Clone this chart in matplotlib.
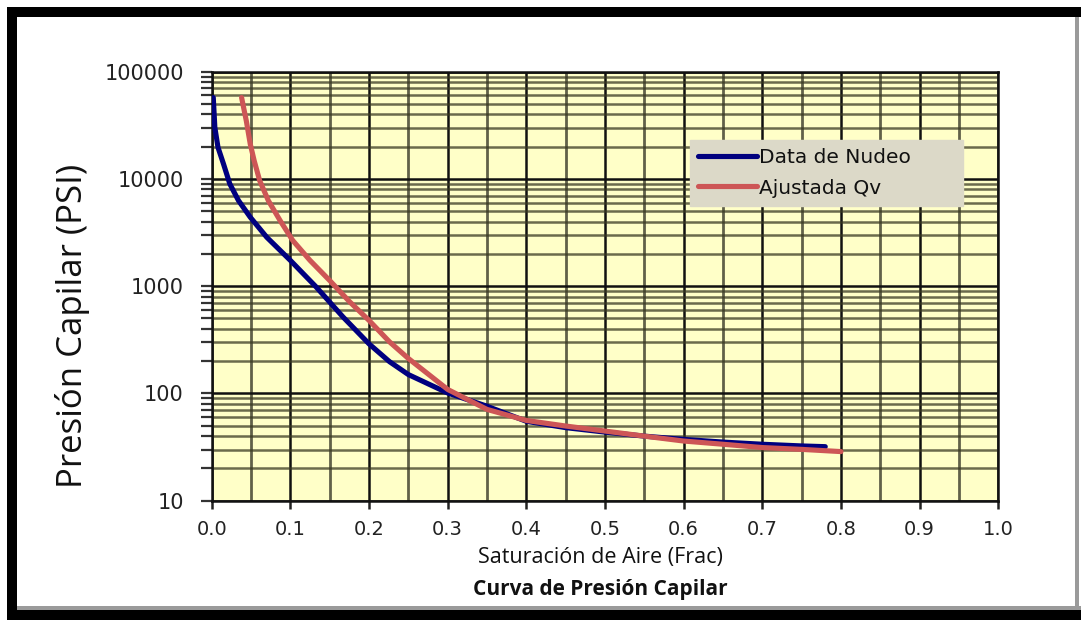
import matplotlib
matplotlib.use("Agg")
import matplotlib.pyplot as plt
from matplotlib.patches import Rectangle
from matplotlib.ticker import FixedLocator, NullFormatter, LogLocator

# ---- data ----
nucleo_x = [0.002, 0.004, 0.008, 0.015, 0.023, 0.034, 0.049, 0.07, 0.1, 0.133, 0.167, 0.2,
            0.226, 0.25, 0.3, 0.35, 0.4, 0.45, 0.5, 0.55, 0.6, 0.65, 0.7, 0.75, 0.78]
nucleo_y = [57400, 30200, 19700, 13800, 9000, 6300, 4400, 2860, 1740, 980, 516, 290,
            198, 150, 101, 76, 55, 48, 43.6, 40, 37.3, 35.2, 33.6, 32.4, 31.9]

ajust_x = [0.038, 0.044, 0.049, 0.054, 0.061, 0.072, 0.087, 0.103, 0.125, 0.15, 0.175, 0.2,
           0.226, 0.25, 0.3, 0.35, 0.4, 0.45, 0.5, 0.55, 0.6, 0.65, 0.7, 0.75, 0.8]
ajust_y = [57400, 34800, 21200, 14800, 9640, 6280, 4090, 2670, 1740, 1130, 720, 480,
           303, 212, 109, 71, 56, 49.7, 44.6, 40, 36, 33.6, 31.3, 30.1, 28.7]

x_ticks = [0.0, 0.1, 0.2, 0.3, 0.4, 0.5, 0.6, 0.7, 0.8, 0.9, 1.0]
x_tick_labels = ["0.0", "0.1", "0.2", "0.3", "0.4", "0.5", "0.6", "0.7", "0.8", "0.9", "1.0"]
y_ticks = [10, 100, 1000, 10000, 100000]
y_tick_labels = ["10", "100", "1000", "10000", "100000"]

series_names = ["Data de Nudeo", "Ajustada Qv"]
x_label = "Saturación de Aire (Frac)"
y_label = "Presión Capilar (PSI)"
title = "Curva de Presión Capilar"

W, H = 1081, 620
fig = plt.figure(figsize=(W / 100, H / 100), dpi=100)
fig.patch.set_facecolor("white")

# outer frame
def px_rect(x0, y0, x1, y1, color, z=10):
    fig.patches.append(Rectangle((x0 / W, 1 - y1 / H), (x1 - x0) / W, (y1 - y0) / H,
                                 transform=fig.transFigure, facecolor=color,
                                 edgecolor="none", zorder=z))

px_rect(7, 7, W, 17, "black")        # top
px_rect(7, 7, 17, H, "black")        # left
px_rect(7, 610, W, H, "black")       # bottom
px_rect(17, 606, W, 610, "#9a9a9a")  # bottom gray
px_rect(1075, 17, 1079, 610, "#9a9a9a")  # right gray

ax_l, ax_r, ax_t, ax_b = 211.7, 998.3, 71.7, 500.7
ax = fig.add_axes([ax_l / W, 1 - ax_b / H, (ax_r - ax_l) / W, (ax_b - ax_t) / H])
ax.set_facecolor("#ffffc8")

ax.set_yscale("log")
ax.set_xlim(0, 1.0)
ax.set_ylim(10, 100000)

# grid
ax.xaxis.set_major_locator(FixedLocator(x_ticks))
ax.xaxis.set_minor_locator(FixedLocator([0.05 + 0.1 * i for i in range(10)]))
ax.yaxis.set_major_locator(FixedLocator(y_ticks))
ax.yaxis.set_minor_locator(LogLocator(base=10, subs=range(2, 10)))
ax.yaxis.set_minor_formatter(NullFormatter())

ax.grid(which="major", axis="both", color="#111111", linewidth=1.8, zorder=1)
ax.grid(which="minor", axis="x", color="#3a3a2a", linewidth=2.0, alpha=0.8, zorder=1)
ax.grid(which="minor", axis="y", color="#3a3a22", linewidth=1.8, alpha=0.75, zorder=1)
ax.set_axisbelow(True)

for s in ax.spines.values():
    s.set_color("#111111")
    s.set_linewidth(1.8)

ax.set_xticks(x_ticks)
ax.set_xticklabels(x_tick_labels)
ax.set_yticks(y_ticks)
ax.set_yticklabels(y_tick_labels)
ax.tick_params(axis="x", which="major", length=6, width=1.8, color="#222222",
               labelsize=14, pad=8, direction="out")
ax.tick_params(axis="x", which="minor", length=0)
ax.tick_params(axis="y", which="both", length=8, width=1.6, color="#333333",
               labelsize=15, pad=12, direction="out")
for lab in ax.get_xticklabels() + ax.get_yticklabels():
    lab.set_family("DejaVu Sans")
    lab.set_color("#222222")

ax.plot(nucleo_x, nucleo_y, color="#00007f", linewidth=3.7, solid_capstyle="round",
        solid_joinstyle="round", label=series_names[0], zorder=3)
ax.plot(ajust_x, ajust_y, color="#cd5656", linewidth=3.7, solid_capstyle="round",
        solid_joinstyle="round", label=series_names[1], zorder=4)

# legend box: pixels 690-963 x, 140-212 y
lx0 = (690 - ax_l) / (ax_r - ax_l)
lx1 = (963 - ax_l) / (ax_r - ax_l)
ly1 = 1 - (140 - ax_t) / (ax_b - ax_t)
ly0 = 1 - (212 - ax_t) / (ax_b - ax_t)
leg = ax.legend(loc="upper left", bbox_to_anchor=(lx0, ly0, lx1 - lx0, ly1 - ly0),
                mode="expand", frameon=True, fancybox=False, facecolor="#dcd9c8",
                edgecolor="#dcd9c8", framealpha=1.0, handlelength=2.9, handletextpad=0.1,
                borderpad=0.42, labelspacing=0.55, borderaxespad=0,
                prop={"family": "DejaVu Sans", "size": 14.5})
for t in leg.get_texts():
    t.set_color("#111111")

fig.text(73 / W, 1 - 326 / H, y_label, rotation=90, ha="center", va="center",
         family="Open Sans", fontsize=25, color="#111111")
fig.text(600 / W, 1 - 557 / H, x_label, ha="center", va="center",
         family="Open Sans", fontsize=15.5, color="#111111")
fig.text(600 / W, 1 - 589 / H, title, ha="center", va="center",
         family="Open Sans", fontsize=15, fontweight="bold", color="#111111")

fig.savefig("out.png", dpi=100, facecolor="white")
